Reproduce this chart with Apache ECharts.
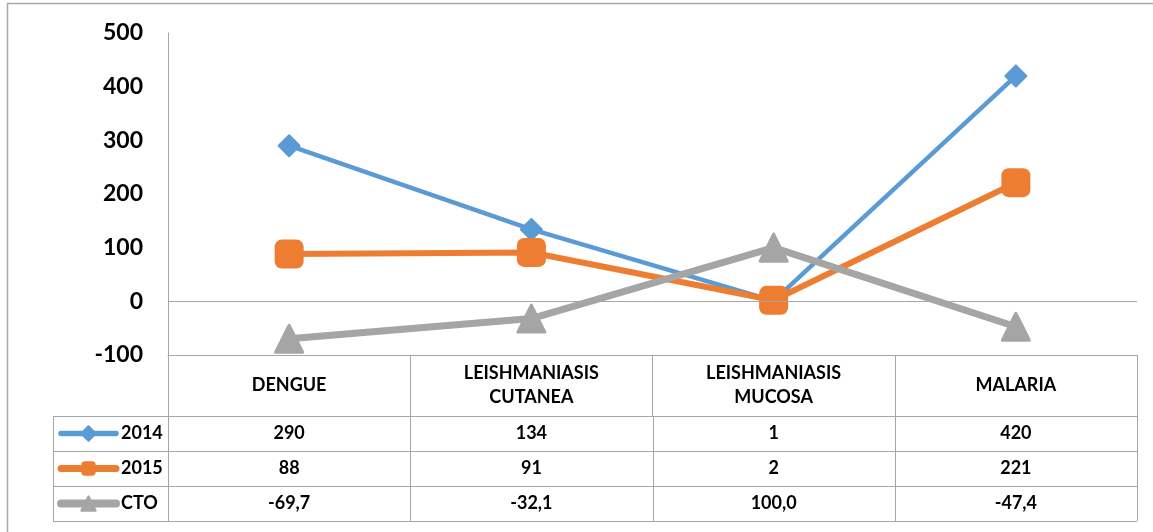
<!DOCTYPE html>
<html>
<head>
<meta charset="utf-8">
<script src="https://cdn.jsdelivr.net/npm/echarts@6/dist/echarts.min.js"></script>
<style>
  html, body { margin: 0; padding: 0; background: #fff; }
  #chart { width: 1153px; height: 532px; }
</style>
</head>
<body>
<div id="chart"></div>
<script>
// Cases per disease, two years, plus percentage change (CTO)
const categories = ['DENGUE', 'LEISHMANIASIS\nCUTANEA', 'LEISHMANIASIS\nMUCOSA', 'MALARIA'];
const seriesNames = ['2014', '2015', 'CTO'];
const values2014 = [290, 134, 1, 420];
const values2015 = [88, 91, 2, 221];
const valuesCTO = [-69.7, -32.1, 100.0, -47.4];
const yMin = -100, yMax = 500, yStep = 100;

const FONT = 'Lato, "Open Sans", sans-serif';
const GRID = '#a6a6a6';
const colors = ['#5b9bd5', '#ed7d31', '#a5a5a5'];
const lineWidths = [4.5, 6, 7];

// layout of the plot and the data table underneath
const gridLeft = 168, gridRight = 16, gridTop = 33, gridBottom = 177;
const headerH = 61, rowH = 35, keyLeft = 53;

const chart = echarts.init(document.getElementById('chart'), null, { renderer: 'canvas' });

const fmtInt = v => String(v);
const fmtPct = v => v.toFixed(1).replace('.', ',');
const rows = [
  { data: values2014, fmt: fmtInt },
  { data: values2015, fmt: fmtInt },
  { data: valuesCTO, fmt: fmtPct }
];

const option = {
  animation: false,
  backgroundColor: '#fff',
  color: colors,
  grid: { left: gridLeft, right: gridRight, top: gridTop, bottom: gridBottom, containLabel: false },
  legend: {
    orient: 'vertical',
    padding: 0,
    left: keyLeft + 4,
    top: 532 - gridBottom + headerH + (rowH - 18) / 2,
    itemWidth: 55,
    itemHeight: 18,
    itemGap: rowH - 18,
    selectedMode: false,
    data: seriesNames.map((n, i) => ({
      name: n,
      lineStyle: { width: lineWidths[i] + 1, cap: 'round', color: colors[i] }
    })),
    textStyle: { fontFamily: FONT, fontSize: 18, fontWeight: 'bold', color: '#000', lineHeight: 18 }
  },
  xAxis: {
    type: 'category',
    data: categories,
    boundaryGap: true,
    axisLine: { onZero: false, lineStyle: { color: GRID, width: 1 } },
    axisTick: { show: true, length: headerH, alignWithLabel: false, lineStyle: { color: GRID, width: 1 } },
    axisLabel: {
      fontFamily: FONT, fontSize: 18, fontWeight: 'bold', color: '#000',
      lineHeight: 24, verticalAlign: 'middle', margin: headerH / 2, interval: 0
    },
    splitLine: { show: false }
  },
  yAxis: {
    type: 'value',
    min: yMin, max: yMax, interval: yStep,
    axisLine: { show: true, lineStyle: { color: GRID, width: 1 } },
    axisTick: { show: false },
    splitLine: { show: false },
    axisLabel: { fontFamily: FONT, fontSize: 23, fontWeight: 'bold', color: '#000', margin: 25 }
  },
  series: [
    {
      name: seriesNames[0], type: 'line', data: values2014,
      symbol: 'diamond', symbolSize: 21,
      lineStyle: { width: lineWidths[0], color: colors[0] },
      itemStyle: { color: colors[0], borderColor: colors[0], borderWidth: 2, borderJoin: 'round' },
      markLine: {
        silent: true, symbol: 'none', label: { show: false },
        lineStyle: { color: GRID, width: 1, type: 'solid' },
        data: [{ yAxis: 0 }]
      },
      z: 2
    },
    {
      name: seriesNames[1], type: 'line', data: values2015,
      symbol: 'roundRect', symbolSize: 29,
      lineStyle: { width: lineWidths[1], color: colors[1] },
      itemStyle: { color: colors[1] },
      z: 3
    },
    {
      name: seriesNames[2], type: 'line', data: valuesCTO,
      symbol: 'triangle', symbolSize: 27,
      lineStyle: { width: lineWidths[2], color: colors[2] },
      itemStyle: { color: colors[2], borderColor: colors[2], borderWidth: 3, borderJoin: 'round' },
      z: 4
    }
  ]
};

chart.setOption(option);

// Data table drawn below the plot: grid lines and value cells
const tableTop = chart.convertToPixel({ yAxisIndex: 0 }, yMin) + headerH;
const plotRight = 1153 - gridRight;
const colCenters = categories.map((c, i) => chart.convertToPixel({ xAxisIndex: 0 }, i));
const step = colCenters.length > 1 ? colCenters[1] - colCenters[0] : (plotRight - gridLeft);
const colEdges = [gridLeft].concat(colCenters.map(c => c + step / 2));

const graphic = [];
// outer frame
graphic.push({
  type: 'rect', silent: true, z: 0,
  shape: { x: 7.5, y: 3.5, width: 1160, height: 540 },
  style: { fill: 'none', stroke: '#a8a8a8', lineWidth: 1.5 }
});
for (let k = 0; k <= rows.length; k++) {
  const y = Math.round(tableTop + k * rowH) + 0.5;
  graphic.push({
    type: 'line', silent: true,
    shape: { x1: keyLeft, y1: y, x2: plotRight, y2: y },
    style: { stroke: GRID, lineWidth: 1 }
  });
}
[keyLeft].concat(colEdges).forEach(x => {
  const xx = Math.round(x) + 0.5;
  graphic.push({
    type: 'line', silent: true,
    shape: { x1: xx, y1: tableTop, x2: xx, y2: tableTop + rows.length * rowH },
    style: { stroke: GRID, lineWidth: 1 }
  });
});
rows.forEach((row, r) => {
  row.data.forEach((v, i) => {
    graphic.push({
      type: 'text', silent: true,
      x: colCenters[i], y: tableTop + r * rowH + rowH / 2,
      style: {
        text: row.fmt(v), fontFamily: FONT, fontSize: 18, fontWeight: 'bold',
        fill: '#000', align: 'center', verticalAlign: 'middle'
      }
    });
  });
});

chart.setOption({ graphic: graphic });
</script>
</body>
</html>
